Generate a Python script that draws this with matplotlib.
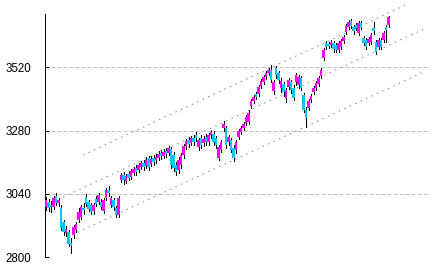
import matplotlib
matplotlib.use("Agg")
import matplotlib.pyplot as plt

# daily candles
opens = [2991, 3009, 2998, 2991, 3032, 3006, 2987, 2934, 2892, 2896,
         2854, 2885, 2903, 2941, 2953, 2987, 3028, 3009, 2998, 2975,
         3021, 3009, 3009, 2975, 3025, 3055, 2998, 3017, 2987, 2960,
         3093, 3112, 3089, 3115, 3104, 3119, 3138, 3131, 3142, 3157,
         3146, 3176, 3153, 3176, 3168, 3176, 3195, 3184, 3202, 3195,
         3210, 3187, 3149, 3131, 3149, 3187, 3221, 3244, 3233, 3252,
         3263, 3218, 3252, 3233, 3255, 3237, 3263, 3267, 3252, 3176,
         3206, 3289, 3289, 3237, 3244, 3214, 3206, 3255, 3274, 3289,
         3308, 3312, 3373, 3392, 3418, 3418, 3449, 3464, 3483, 3498,
         3509, 3430, 3517, 3498, 3441, 3456, 3403, 3445, 3464, 3441,
         3464, 3452, 3479, 3414, 3358, 3365, 3396, 3426, 3441, 3456,
         3486, 3555, 3611, 3607, 3604, 3611, 3604, 3585, 3596, 3619,
         3653, 3672, 3695, 3672, 3679, 3649, 3687, 3630, 3623, 3611,
         3615, 3668, 3615, 3596, 3623, 3623, 3672, 3679]
highs = [3028, 3021, 3013, 3032, 3043, 3025, 2998, 2941, 2919, 2903,
         2873, 2922, 2934, 2987, 2998, 3006, 3040, 3017, 3006, 3006,
         3032, 3043, 3021, 3025, 3062, 3070, 3032, 3025, 2994, 3032,
         3119, 3123, 3115, 3127, 3134, 3142, 3149, 3157, 3165, 3168,
         3180, 3184, 3184, 3187, 3191, 3202, 3206, 3210, 3214, 3221,
         3218, 3199, 3161, 3180, 3195, 3229, 3248, 3255, 3259, 3263,
         3274, 3252, 3263, 3259, 3267, 3271, 3282, 3278, 3259, 3225,
         3244, 3316, 3297, 3263, 3252, 3225, 3244, 3286, 3297, 3312,
         3339, 3358, 3399, 3414, 3426, 3452, 3475, 3490, 3505, 3517,
         3528, 3471, 3524, 3505, 3479, 3464, 3441, 3479, 3471, 3452,
         3498, 3490, 3486, 3422, 3369, 3399, 3418, 3449, 3468, 3486,
         3517, 3592, 3619, 3615, 3623, 3619, 3611, 3619, 3626, 3642,
         3683, 3698, 3702, 3679, 3687, 3695, 3695, 3638, 3630, 3634,
         3649, 3691, 3623, 3630, 3630, 3657, 3679, 3713]
lows = [2979, 2975, 2972, 2983, 2998, 2994, 2903, 2885, 2881, 2843,
        2816, 2873, 2896, 2934, 2945, 2964, 2994, 2975, 2964, 2964,
        2994, 3002, 2983, 2968, 3017, 3032, 2991, 2979, 2953, 2953,
        3085, 3077, 3081, 3093, 3096, 3112, 3112, 3123, 3134, 3131,
        3138, 3131, 3146, 3149, 3157, 3168, 3172, 3176, 3180, 3187,
        3138, 3127, 3112, 3119, 3138, 3176, 3210, 3218, 3225, 3225,
        3240, 3206, 3214, 3221, 3225, 3225, 3252, 3225, 3214, 3168,
        3199, 3278, 3214, 3225, 3199, 3165, 3195, 3248, 3267, 3282,
        3301, 3305, 3365, 3384, 3399, 3411, 3441, 3456, 3475, 3490,
        3464, 3418, 3479, 3460, 3426, 3411, 3388, 3437, 3422, 3396,
        3452, 3441, 3433, 3350, 3293, 3358, 3388, 3418, 3433, 3449,
        3479, 3547, 3589, 3592, 3596, 3577, 3577, 3577, 3589, 3611,
        3645, 3664, 3668, 3645, 3660, 3642, 3664, 3604, 3589, 3604,
        3607, 3645, 3570, 3589, 3589, 3615, 3615, 3672]
closes = [3017, 2987, 2991, 3025, 3006, 3017, 2911, 2896, 2907, 2850,
          2843, 2915, 2926, 2972, 2991, 2979, 3002, 2983, 2972, 2998,
          3002, 3036, 2991, 3017, 3055, 3043, 3025, 2991, 2960, 3025,
          3112, 3093, 3108, 3100, 3127, 3134, 3123, 3149, 3157, 3142,
          3168, 3142, 3172, 3161, 3180, 3191, 3184, 3199, 3191, 3214,
          3149, 3138, 3123, 3168, 3187, 3221, 3240, 3229, 3252, 3237,
          3252, 3244, 3225, 3248, 3237, 3263, 3274, 3237, 3225, 3218,
          3237, 3305, 3225, 3255, 3206, 3176, 3237, 3278, 3289, 3305,
          3331, 3346, 3392, 3407, 3407, 3445, 3468, 3483, 3498, 3509,
          3471, 3464, 3490, 3471, 3468, 3426, 3433, 3471, 3433, 3403,
          3490, 3483, 3441, 3358, 3327, 3392, 3411, 3441, 3460, 3479,
          3509, 3585, 3596, 3600, 3615, 3589, 3585, 3611, 3619, 3634,
          3676, 3691, 3676, 3657, 3668, 3687, 3672, 3611, 3596, 3626,
          3642, 3657, 3577, 3623, 3596, 3649, 3660, 3710]

yticks = [2800, 3040, 3280, 3520]

# channel lines: (start index, end index), (start price, end price)
upper_x, upper_y = [14.8, 143.6], [3187, 3755]
middle_x, middle_y = [6.8, 150.8], [3028, 3664]
lower_x, lower_y = [10.4, 150.8], [2885, 3501]

fig = plt.figure(figsize=(432/72, 271/72), dpi=72)
ax = fig.add_axes([45/432, 13.7/271, 383/432, 243.3/271])

idx = list(range(len(closes)))
colors = ['#ff00ff' if c > o else '#00c8ff' for o, c in zip(opens, closes)]
bottoms = [min(o, c) for o, c in zip(opens, closes)]
heights = [abs(c - o) for o, c in zip(opens, closes)]

ax.vlines(idx, lows, highs, color='black', lw=1, zorder=2, antialiased=False)
ax.bar(idx, heights, bottom=bottoms, width=1.0, color=colors, linewidth=0,
       zorder=3, antialiased=False)

for xs, ys in [(upper_x, upper_y), (middle_x, middle_y), (lower_x, lower_y)]:
    ax.plot(xs, ys, color='#8c8c8c', lw=1, linestyle=(0, (1.5, 4.5)),
            clip_on=False, zorder=1)

ax.set_xlim(-0.4, 152.8)
ax.set_ylim(2800, 3722)
ax.set_yticks(yticks)
ax.set_yticklabels([str(v) for v in yticks], family='Liberation Sans', fontsize=11.5)
ax.yaxis.grid(True, color='#c0c0c0', lw=1, linestyle=(0, (4, 2)))
ax.set_axisbelow(True)
ax.tick_params(axis='y', direction='in', length=4, width=1, pad=14)
ax.xaxis.set_visible(False)
for side in ['top', 'right', 'bottom']:
    ax.spines[side].set_visible(False)
ax.spines['left'].set_linewidth(1)

fig.savefig('out.png', dpi=72)
